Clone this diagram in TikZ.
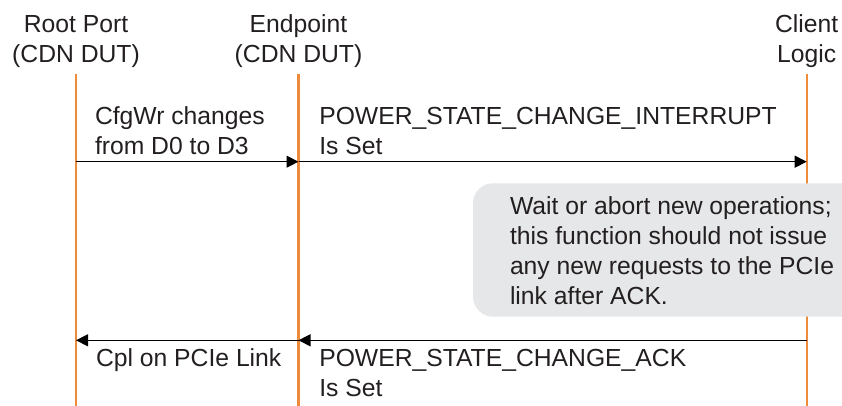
\documentclass[tikz,border=0pt]{standalone}
\usepackage{fontspec}
\setmainfont{Liberation Sans}
\usetikzlibrary{arrows.meta}
\definecolor{lifeorange}{HTML}{EE8B3A}
\definecolor{notegray}{HTML}{E6E7E8}
\definecolor{txt}{HTML}{231F20}
\tikzset{
  lifeline/.style={draw=lifeorange, line width=2.2pt},
  msg/.style={draw=black, line width=1.2pt, -{Triangle[length=12pt,width=12pt]}},
  lbl/.style={inner sep=0pt, outer sep=0pt, text=txt, font=\fontsize{24.7}{30}\selectfont, align=left, anchor=base west},
  head/.style={inner sep=0pt, outer sep=0pt, text=txt, font=\fontsize{24.7}{30}\selectfont, align=center, anchor=base},
}
\begin{document}
\begin{tikzpicture}[x=1pt,y=-1pt]
\useasboundingbox (0,0) rectangle (842,406);
% headers (base = last line baseline)
\node[head] (hrp) at (76,62.3) {Root Port\\(CDN DUT)};
\node[head] (hep) at (298.5,62.3) {Endpoint\\(CDN DUT)};
\node[head] (hcl) at (806.7,62.3) {Client\\Logic};
% lifelines
\coordinate (rpT) at (76,74);
\coordinate (rpB) at (76,406);
\coordinate (epT) at (298.5,74);
\coordinate (epB) at (298.5,406);
\coordinate (clT) at (806.7,74);
\coordinate (clB) at (806.7,406);
\draw[lifeline] (rpT) -- (rpB);
\draw[lifeline] (epT) -- (epB);
\draw[lifeline] (clT) -- (clB);
% message points
\coordinate (rp1) at (76,161.7);
\coordinate (ep1) at (298.5,161.7);
\coordinate (cl1) at (806.7,161.7);
\coordinate (rp2) at (76,340.3);
\coordinate (ep2) at (298.5,340.3);
\coordinate (cl2) at (806.7,340.3);
\draw[msg] (rp1) -- (ep1);
\draw[msg] (ep1) -- (cl1);
\draw[msg] (cl2) -- (ep2);
\draw[msg] (ep2) -- (rp2);
% note box
\begin{scope}
\clip (0,0) rectangle (842,406);
\fill[notegray, rounded corners=20pt] (473,183.3) rectangle (880,316.7);
\end{scope}
% labels
\node[lbl] (m1) at (95,155) {CfgWr changes\\from D0 to D3};
\node[lbl] (m2) at (319.3,155) {POWER\_STATE\_CHANGE\_INTERRUPT\\Is Set};
\node[lbl] (note) at (510,304.5) {Wait or abort new operations;\\this function should not issue\\any new requests to the PCIe\\link after ACK.};
\node[lbl] (m3) at (96,366.7) {Cpl on PCIe Link};
\node[lbl] (m4) at (319.3,396) {POWER\_STATE\_CHANGE\_ACK\\Is Set};
\end{tikzpicture}
\end{document}
